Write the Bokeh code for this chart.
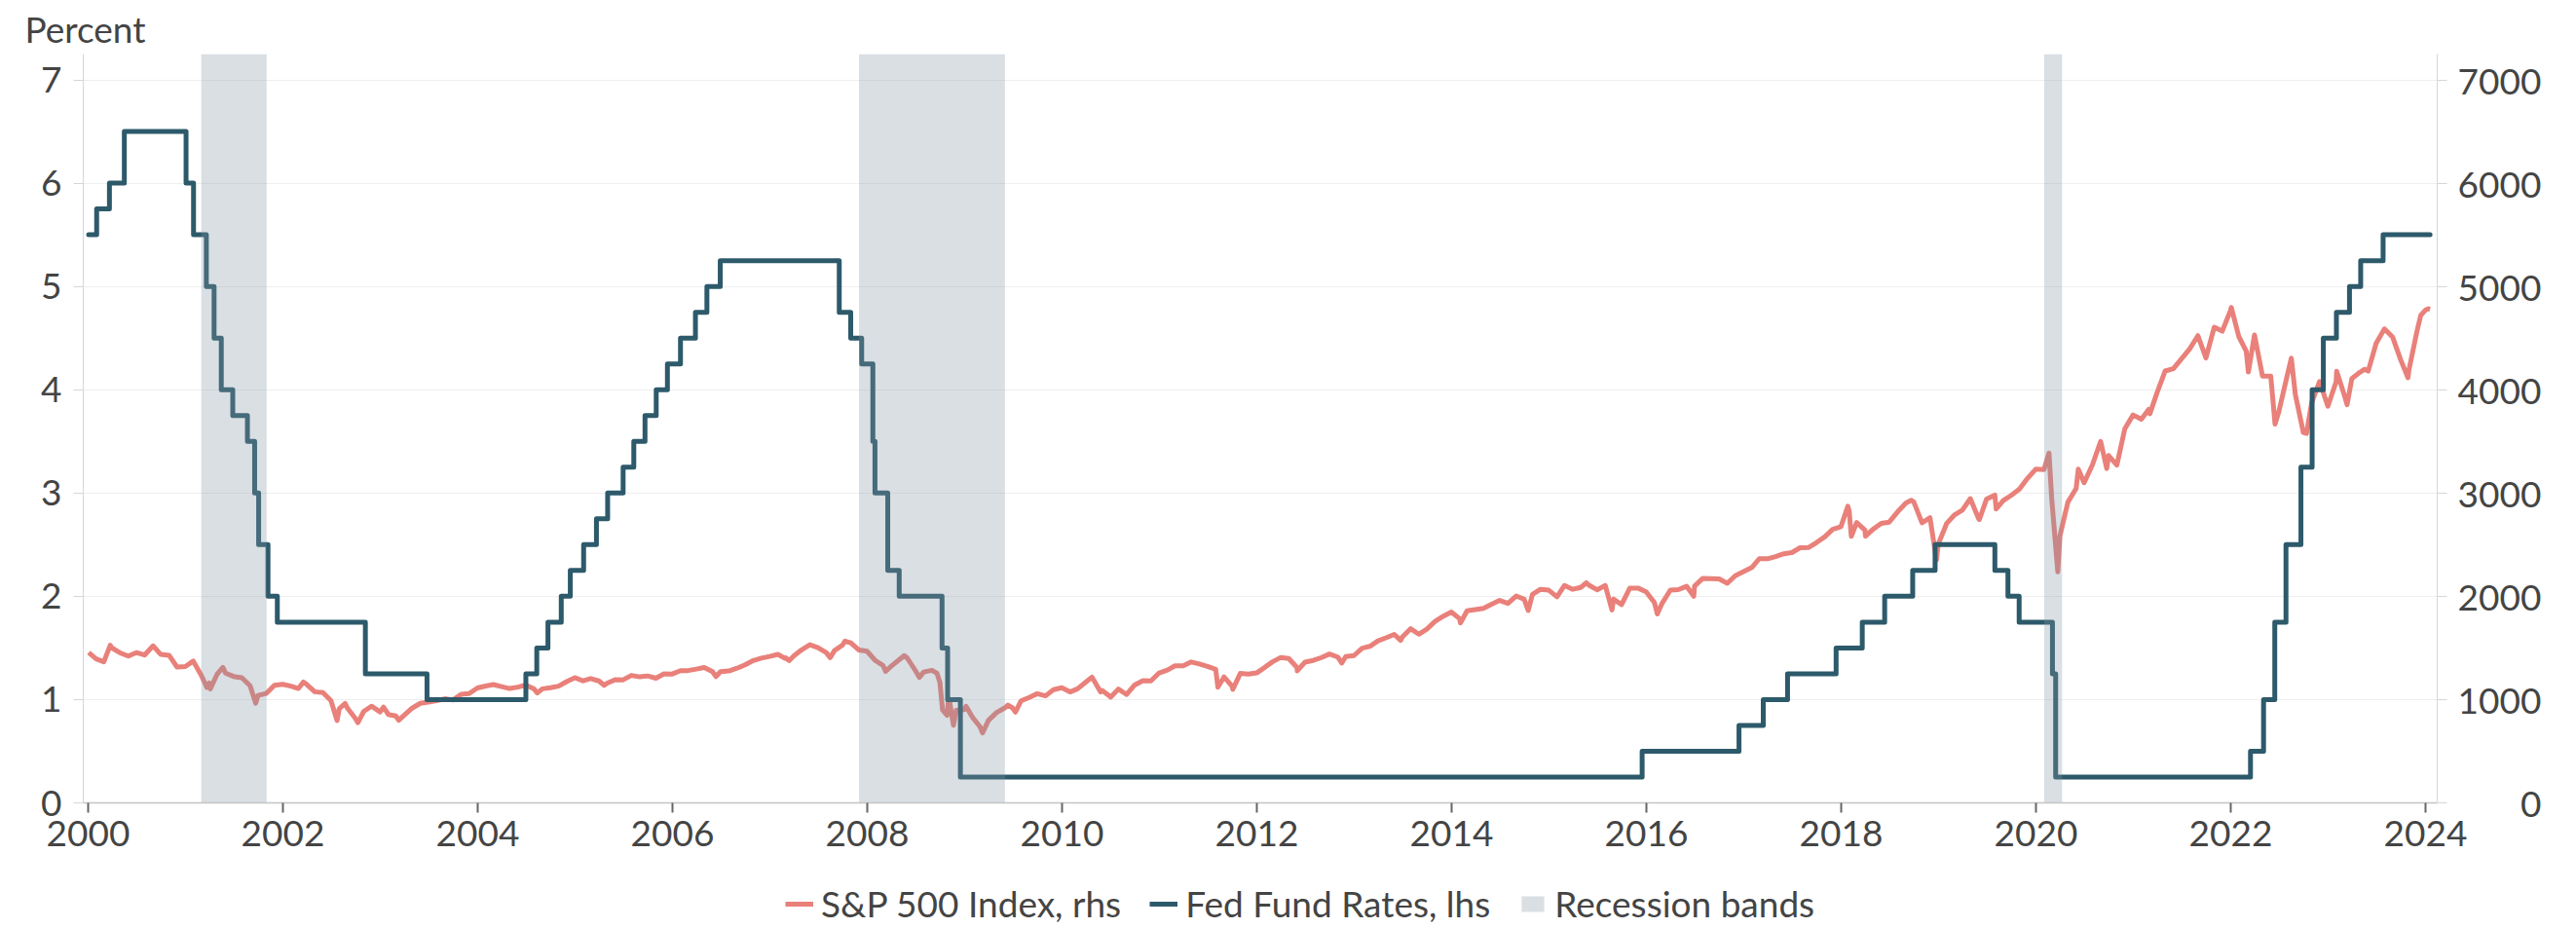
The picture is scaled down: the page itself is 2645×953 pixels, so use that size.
import numpy as np
import pandas as pd
from bokeh.plotting import figure
from bokeh.layouts import column
from bokeh.models import (Range1d, LinearAxis, FixedTicker, Legend, LegendItem, Title)
from bokeh.embed import file_html
from bokeh.resources import INLINE

# ---------------- data ----------------
# S&P 500 month-end closes, 2000..2023
sp_monthly = {
    2000: [1394, 1366, 1499, 1452, 1421, 1455, 1431, 1518, 1437, 1429, 1315, 1320],
    2001: [1366, 1240, 1160, 1249, 1256, 1224, 1211, 1134, 1041, 1060, 1139, 1148],
    2002: [1130, 1107, 1147, 1076, 1067, 990, 912, 916, 815, 886, 936, 880],
    2003: [856, 841, 848, 917, 964, 975, 990, 1008, 996, 1051, 1058, 1112],
    2004: [1131, 1145, 1126, 1107, 1121, 1141, 1102, 1104, 1115, 1130, 1174, 1212],
    2005: [1181, 1204, 1181, 1157, 1192, 1191, 1234, 1220, 1229, 1207, 1249, 1248],
    2006: [1280, 1281, 1295, 1311, 1270, 1270, 1277, 1304, 1336, 1378, 1401, 1418],
    2007: [1438, 1407, 1421, 1482, 1531, 1503, 1455, 1474, 1527, 1549, 1481, 1468],
    2008: [1379, 1331, 1323, 1386, 1400, 1280, 1267, 1283, 1166, 969, 896, 903],
    2009: [826, 735, 798, 873, 919, 919, 987, 1021, 1057, 1036, 1096, 1115],
    2010: [1074, 1104, 1169, 1187, 1089, 1031, 1102, 1049, 1141, 1183, 1181, 1258],
    2011: [1286, 1327, 1326, 1364, 1345, 1321, 1292, 1219, 1131, 1253, 1247, 1258],
    2012: [1312, 1366, 1408, 1398, 1310, 1362, 1379, 1407, 1441, 1412, 1416, 1426],
    2013: [1498, 1515, 1569, 1598, 1631, 1606, 1686, 1633, 1682, 1757, 1806, 1848],
    2014: [1783, 1859, 1872, 1884, 1924, 1960, 1931, 2003, 1972, 2018, 2068, 2059],
    2015: [1995, 2105, 2068, 2086, 2107, 2063, 2104, 1972, 1920, 2079, 2080, 2044],
    2016: [1940, 1932, 2060, 2065, 2097, 2099, 2174, 2171, 2168, 2126, 2199, 2239],
    2017: [2279, 2364, 2363, 2384, 2412, 2423, 2470, 2472, 2519, 2575, 2648, 2674],
    2018: [2824, 2714, 2641, 2648, 2705, 2718, 2816, 2902, 2914, 2712, 2760, 2507],
    2019: [2704, 2784, 2834, 2946, 2752, 2942, 2980, 2926, 2977, 3038, 3141, 3231],
    2020: [3226, 2954, 2585, 2912, 3044, 3100, 3271, 3500, 3363, 3270, 3622, 3756],
    2021: [3714, 3811, 3973, 4181, 4204, 4298, 4395, 4523, 4308, 4605, 4567, 4766],
    2022: [4516, 4374, 4530, 4132, 4132, 3785, 4130, 3955, 3586, 3872, 4080, 3840],
    2023: [4077, 3970, 4109, 4169, 4180, 4450, 4589, 4508, 4288, 4194, 4568, 4770],
}
# intra-month highs / lows
sp_extra_dates = [
    "2000-01-03", "2000-03-24", "2000-09-01", "2001-01-30", "2001-03-22", "2001-04-04",
    "2001-05-21", "2001-09-21", "2002-03-19", "2002-07-23", "2002-08-22", "2002-10-09",
    "2003-01-13", "2003-03-11", "2004-08-12", "2005-04-20", "2006-06-13", "2007-02-27",
    "2007-03-14", "2007-08-15", "2007-10-09", "2008-03-10", "2008-05-19", "2008-07-15",
    "2008-09-19", "2008-10-10", "2008-10-27", "2008-11-04", "2008-11-20", "2009-01-06",
    "2009-03-09", "2009-06-12", "2009-07-10", "2010-04-23", "2010-05-25", "2010-07-02",
    "2011-08-08", "2011-10-03", "2012-06-01", "2012-11-15", "2013-06-24", "2014-02-03",
    "2014-10-15", "2015-05-21", "2015-08-25", "2016-02-11", "2016-06-27", "2018-01-26",
    "2018-02-08", "2018-04-02", "2018-09-20", "2018-12-24", "2019-06-03", "2019-08-05",
    "2020-02-19", "2020-03-23", "2020-06-08", "2020-09-23", "2021-03-04", "2022-01-03",
    "2022-03-08", "2022-06-16", "2022-08-16", "2022-10-12", "2023-02-02", "2023-03-13",
    "2023-05-18", "2023-10-27", "2023-12-14", "2024-01-12", "2024-01-18",
]
sp_extra_values = [
    1455, 1527, 1520, 1373, 1118, 1103,
    1312, 965, 1170, 797, 962, 777,
    927, 800, 1064, 1138, 1223, 1399,
    1377, 1406, 1565, 1273, 1426, 1215,
    1255, 899, 848, 1005, 752, 935,
    677, 946, 879, 1217, 1074, 1023,
    1119, 1099, 1278, 1353, 1573, 1742,
    1862, 2131, 1868, 1829, 2001, 2873,
    2581, 2582, 2930, 2351, 2744, 2845,
    3386, 2237, 3232, 3237, 3768, 4797,
    4171, 3667, 4305, 3577, 4179, 3855,
    4198, 4117, 4719, 4784, 4780,
]

# Fed funds target rate (upper bound): change dates and new levels
fed_dates = [
    "2000-01-03", "2000-02-02", "2000-03-21", "2000-05-16", "2001-01-03", "2001-01-31",
    "2001-03-20", "2001-04-18", "2001-05-15", "2001-06-27", "2001-08-21", "2001-09-17",
    "2001-10-02", "2001-11-06", "2001-12-11", "2002-11-06", "2003-06-25", "2004-06-30",
    "2004-08-10", "2004-09-21", "2004-11-10", "2004-12-14", "2005-02-02", "2005-03-22",
    "2005-05-03", "2005-06-30", "2005-08-09", "2005-09-20", "2005-11-01", "2005-12-13",
    "2006-01-31", "2006-03-28", "2006-05-10", "2006-06-29", "2007-09-18", "2007-10-31",
    "2007-12-11", "2008-01-22", "2008-01-30", "2008-03-18", "2008-04-30", "2008-10-08",
    "2008-10-29", "2008-12-16", "2015-12-16", "2016-12-14", "2017-03-15", "2017-06-14",
    "2017-12-13", "2018-03-21", "2018-06-13", "2018-09-26", "2018-12-19", "2019-07-31",
    "2019-09-18", "2019-10-30", "2020-03-03", "2020-03-15", "2022-03-16", "2022-05-04",
    "2022-06-15", "2022-07-27", "2022-09-21", "2022-11-02", "2022-12-14", "2023-02-01",
    "2023-03-22", "2023-05-03", "2023-07-26", "2024-01-18",
]
fed_rates = [
    5.5, 5.75, 6.0, 6.5, 6.0, 5.5,
    5.0, 4.5, 4.0, 3.75, 3.5, 3.0,
    2.5, 2.0, 1.75, 1.25, 1.0, 1.25,
    1.5, 1.75, 2.0, 2.25, 2.5, 2.75,
    3.0, 3.25, 3.5, 3.75, 4.0, 4.25,
    4.5, 4.75, 5.0, 5.25, 4.75, 4.5,
    4.25, 3.5, 3.0, 2.25, 2.0, 1.5,
    1.0, 0.25, 0.5, 0.75, 1.0, 1.25,
    1.5, 1.75, 2.0, 2.25, 2.5, 2.25,
    2.0, 1.75, 1.25, 0.25, 0.5, 1.0,
    1.75, 2.5, 3.25, 4.0, 4.5, 4.75,
    5.0, 5.25, 5.5, 5.5,
]

# NBER recessions
rec_start = ["2001-03-01", "2007-12-01", "2020-02-01"]
rec_end = ["2001-11-01", "2009-06-01", "2020-04-08"]

x_ticks = list(range(2000, 2025, 2))
left_ticks = list(range(0, 8))
right_ticks = list(range(0, 8000, 1000))
legend_labels = ["S&P 500 Index, rhs", "Fed Fund Rates, lhs", "Recession bands"]

# ---------------- helpers ----------------
def dec_year(dates):
    d = pd.to_datetime(pd.Series(dates))
    days = np.where(d.dt.is_leap_year, 366.0, 365.0)
    return (d.dt.year + (d.dt.dayofyear - 1) / days).to_numpy()

m_dates, m_vals = [], []
for yr, vals in sp_monthly.items():
    for m, v in enumerate(vals, start=1):
        m_dates.append((pd.Timestamp(yr, m, 1) + pd.offsets.MonthEnd(0)).strftime("%Y-%m-%d"))
        m_vals.append(v)
sp_df = pd.DataFrame({"d": m_dates + sp_extra_dates, "v": m_vals + sp_extra_values})
sp_df["d"] = pd.to_datetime(sp_df["d"])
sp_df = sp_df.sort_values("d")
sp_x = dec_year(sp_df["d"])
sp_v = sp_df["v"].to_numpy()

fed_x = dec_year(fed_dates)
rec_x0 = dec_year(rec_start)
rec_x1 = dec_year(rec_end)

# ---------------- styling ----------------
FONT = "Lato"
TXT = "#444444"
SP_COLOR = "#e9807a"
FED_COLOR = "#2d5a6b"
REC_COLOR = "#8094a2"
REC_ALPHA = 0.3
FS = "37px"

W = 2645
MAIN_H = 900
LEG_H = 53

p = figure(width=W, height=MAIN_H, output_backend="svg", toolbar_location=None,
           x_range=Range1d(1999.95, 2024.12), y_range=Range1d(0, 7.25),
           min_border_left=85, min_border_right=143, min_border_top=54,
           min_border_bottom=MAIN_H - 824)
p.outline_line_color = None
p.extra_y_ranges = {"sp": Range1d(0, 7250)}

p.xgrid.visible = False
p.ygrid.grid_line_color = "#efefef"
p.ygrid.grid_line_width = 1

xa = p.xaxis[0]
xa.ticker = FixedTicker(ticks=x_ticks)
xa.axis_line_color = "#c4c4c4"
xa.axis_line_width = 1.5
xa.major_tick_line_color = "#666666"
xa.major_tick_line_width = 2
xa.major_tick_out = 10
xa.major_tick_in = 0
xa.minor_tick_line_color = None
xa.major_label_standoff = 8
xa.major_label_text_font = FONT
xa.major_label_text_font_size = FS
xa.major_label_text_color = TXT

ya = p.yaxis[0]
ya.ticker = FixedTicker(ticks=left_ticks)
ya.axis_line_color = "#d6d6d6"
ya.major_tick_line_color = "#d6d6d6"
ya.major_tick_out = 10
ya.major_tick_in = 0
ya.minor_tick_line_color = None
ya.major_label_standoff = 12
ya.major_label_text_font = FONT
ya.major_label_text_font_size = FS
ya.major_label_text_color = TXT

ra = LinearAxis(y_range_name="sp", ticker=FixedTicker(ticks=right_ticks),
                major_label_overrides={0: "\u2007\u2007\u20070"})
ra.axis_line_color = "#d6d6d6"
ra.major_tick_line_color = "#d6d6d6"
ra.major_tick_out = 10
ra.major_tick_in = 0
ra.minor_tick_line_color = None
ra.major_label_standoff = 11
ra.major_label_text_font = FONT
ra.major_label_text_font_size = FS
ra.major_label_text_color = TXT
p.add_layout(ra, "right")

p.line(sp_x, sp_v, y_range_name="sp", line_color=SP_COLOR, line_width=5,
       line_join="round")
p.step(fed_x, fed_rates, mode="after", line_color=FED_COLOR, line_width=5,
       line_join="round", line_cap="round")
p.quad(left=rec_x0, right=rec_x1, bottom=0, top=7.25,
       fill_color=REC_COLOR, fill_alpha=REC_ALPHA, line_color=None)

p.add_layout(Title(text="Percent", align="left", offset=-60, standoff=8,
                   text_font=FONT, text_font_size=FS, text_color=TXT,
                   text_font_style="normal"), "above")

# ---------------- legend strip (frame is aligned with the main plot) ----------------
lf = figure(width=W, height=LEG_H, output_backend="svg", toolbar_location=None,
            x_range=Range1d(0, 1), y_range=Range1d(0, 1), min_border=0)
lf.outline_line_color = None
lf.axis.visible = False
lf.grid.visible = False
# proxy glyphs placed outside the visible range, only for the legend swatches
r1 = lf.line([-5, -4], [-5, -5], line_color=SP_COLOR, line_width=5)
r2 = lf.line([-5, -4], [-5, -5], line_color=FED_COLOR, line_width=5)
r3 = lf.quad(left=[-5], right=[-4], bottom=[-5], top=[-4], fill_color=REC_COLOR,
             fill_alpha=REC_ALPHA, line_color=None)
legend = Legend(items=[LegendItem(label=legend_labels[0], renderers=[r1]),
                       LegendItem(label=legend_labels[1], renderers=[r2]),
                       LegendItem(label=legend_labels[2], renderers=[r3])],
                location=(721, 3), orientation="horizontal")
legend.border_line_color = None
legend.background_fill_alpha = 0
legend.padding = 0
legend.margin = 0
legend.spacing = 29
legend.label_standoff = 8
legend.glyph_width = 29
legend.glyph_height = 20
legend.label_text_font = FONT
legend.label_text_font_size = FS
legend.label_text_color = TXT
lf.add_layout(legend)

open("out.html", "w").write(file_html(column(p, lf, spacing=0), INLINE))
